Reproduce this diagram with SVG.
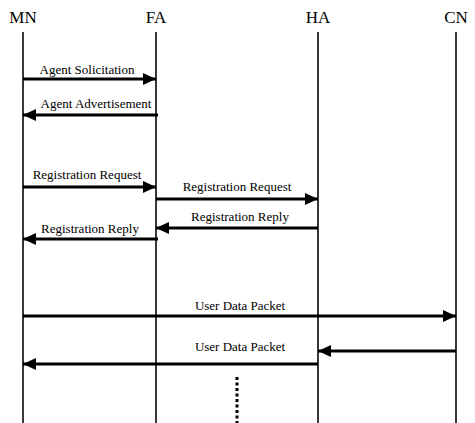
<svg xmlns="http://www.w3.org/2000/svg" width="475" height="423" viewBox="0 0 475 423">
<style>
.life{stroke:#222;stroke-width:1.8;fill:none}
.msg{stroke:#000;stroke-width:3.2;fill:none}
.hdr{font-family:"Liberation Serif","Times New Roman",serif;font-size:17px;fill:#000;text-anchor:middle}
.lbl{font-family:"Liberation Serif","Times New Roman",serif;font-size:13px;fill:#000;text-anchor:middle}
</style>
<defs>
<marker id="ah" viewBox="0 0 13 12" refX="13" refY="6" markerWidth="13" markerHeight="12" markerUnits="userSpaceOnUse" orient="auto">
<path d="M0,0 L13,6 L0,12 Z" fill="#000"/>
</marker>
</defs>
<rect width="475" height="423" fill="#fff"/>
<g id="MN"><text class="hdr" x="23" y="23">MN</text><line class="life" x1="23" y1="32" x2="23" y2="423"/></g>
<g id="FA"><text class="hdr" x="156" y="23">FA</text><line class="life" x1="156" y1="32" x2="156" y2="423"/></g>
<g id="HA"><text class="hdr" x="318" y="23">HA</text><line class="life" x1="318" y1="32" x2="318" y2="423"/></g>
<g id="CN"><text class="hdr" x="456" y="23">CN</text><line class="life" x1="456" y1="32" x2="456" y2="423"/></g>
<g id="connectors">
<line class="msg" x1="23" y1="79" x2="156" y2="79" marker-end="url(#ah)"/>
<line class="msg" x1="158" y1="115" x2="23" y2="115" marker-end="url(#ah)"/>
<line class="msg" x1="23" y1="187" x2="156" y2="187" marker-end="url(#ah)"/>
<line class="msg" x1="156" y1="199" x2="318" y2="199" marker-end="url(#ah)"/>
<line class="msg" x1="318" y1="228" x2="156" y2="228" marker-end="url(#ah)"/>
<line class="msg" x1="158" y1="239" x2="23" y2="239" marker-end="url(#ah)"/>
<line class="msg" x1="23" y1="316" x2="456" y2="316" marker-end="url(#ah)"/>
<line class="msg" x1="456" y1="351" x2="318" y2="351" marker-end="url(#ah)"/>
<line class="msg" x1="318" y1="364" x2="23" y2="364" marker-end="url(#ah)"/>
<line x1="237" y1="377" x2="237" y2="423" stroke="#000" stroke-width="3" stroke-dasharray="3,2.5"/>
</g>
<g id="labels">
<text class="lbl" x="87" y="74">Agent Solicitation</text>
<text class="lbl" x="96" y="108">Agent Advertisement</text>
<text class="lbl" x="87" y="179">Registration Request</text>
<text class="lbl" x="237" y="191">Registration Request</text>
<text class="lbl" x="240" y="221">Registration Reply</text>
<text class="lbl" x="90" y="233">Registration Reply</text>
<text class="lbl" x="240" y="310">User Data Packet</text>
<text class="lbl" x="240" y="351">User Data Packet</text>
</g>
</svg>
